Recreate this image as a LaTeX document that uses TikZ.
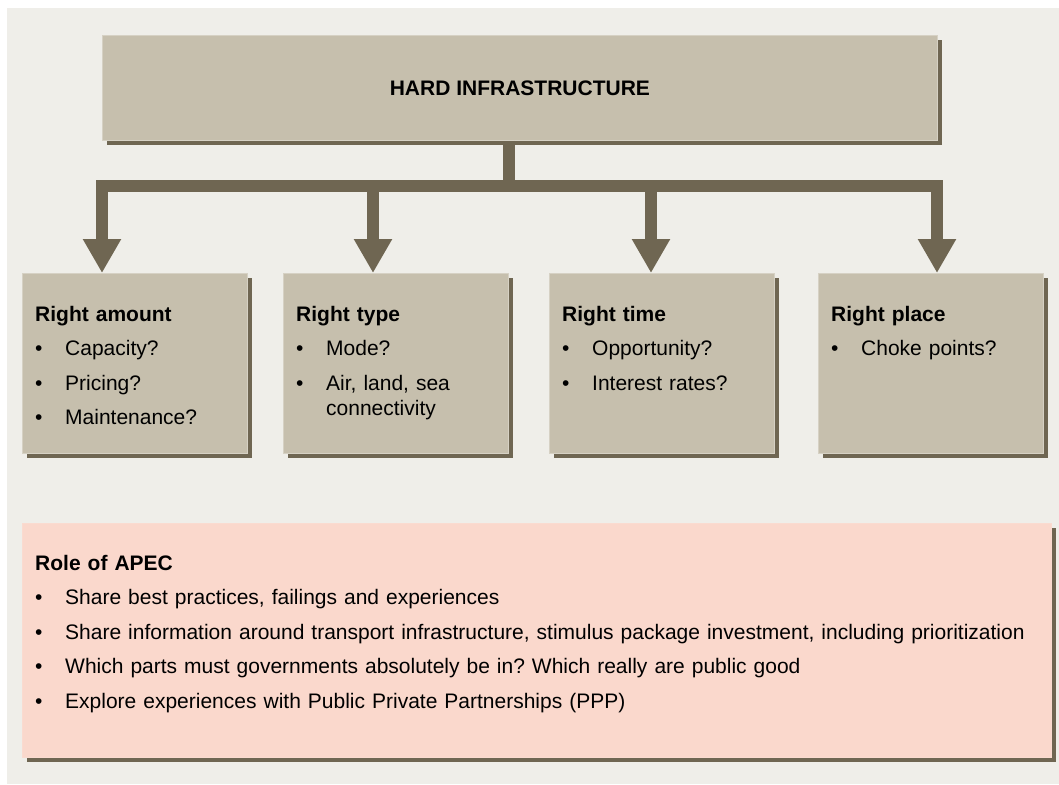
\documentclass[tikz,border=0pt]{standalone}
\usepackage{fontspec}
\setmainfont{Liberation Sans}
\usetikzlibrary{arrows.meta,shadows}
\definecolor{panel}{RGB}{239,238,233}
\definecolor{sand}{RGB}{198,191,173}
\definecolor{sandrim}{RGB}{214,209,196}
\definecolor{umber}{RGB}{111,102,82}
\definecolor{blush}{RGB}{250,216,204}
\newcommand{\pitem}[1]{\par\hangindent=30pt\hangafter=1\makebox[30pt][l]{\textbullet}#1\par}
\tikzset{
  card/.style={rectangle,fill=sand,draw=sandrim,line width=0.8pt,anchor=north west,inner sep=0pt,
    drop shadow={shadow xshift=5pt,shadow yshift=-5pt,opacity=1,fill=umber}},
  listtext/.style={anchor=north west,inner sep=0pt,text width=#1,align=left,
    font=\fontsize{21}{25}\selectfont,
    execute at begin node={\frenchspacing\setlength{\parindent}{0pt}\setlength{\parskip}{9.5pt}}},
  listtext/.default=205pt,
  trunk/.style={draw=umber,line width=12pt},
  feed/.style={trunk,-{Triangle[width=36pt,length=34pt]}}
}

\begin{document}
\begin{tikzpicture}[x=1pt,y=-1pt]
\fill[white] (0,0) rectangle (1059,784);
\fill[panel] (7,8) rectangle (1059,784);

\node[card,minimum width=835pt,minimum height=105pt,font=\bfseries\fontsize{21}{25}\selectfont]
  (hard) at (102,35) {HARD INFRASTRUCTURE};

\node[card,minimum width=225pt,minimum height=180pt] (amount) at (22,273) {};
\node[card,minimum width=225pt,minimum height=180pt] (type) at (283,273) {};
\node[card,minimum width=225pt,minimum height=180pt] (time) at (549,273) {};
\node[card,minimum width=225pt,minimum height=180pt] (place) at (818,273) {};
\node[card,fill=blush,draw=blush!92!white,minimum width=1029pt,minimum height=234pt] (apec) at (22,523) {};

% texts of the four cards
\node[listtext] (amount-txt) at ([shift={(13,33)}]amount.north west)
  {\textbf{Right amount}\pitem{Capacity?}\pitem{Pricing?}\pitem{Maintenance?}};
\node[listtext] (type-txt) at ([shift={(13,33)}]type.north west)
  {\textbf{Right type}\pitem{Mode?}\pitem{Air, land, sea\hfil\break connectivity}};
\node[listtext] (time-txt) at ([shift={(13,33)}]time.north west)
  {\textbf{Right time}\pitem{Opportunity?}\pitem{Interest rates?}};
\node[listtext] (place-txt) at ([shift={(13,33)}]place.north west)
  {\textbf{Right place}\pitem{Choke points?}};

\node[listtext=1010pt] (apec-txt) at ([shift={(13,32)}]apec.north west)
  {\textbf{Role of APEC}
   \pitem{Share best practices, failings and experiences}
   \pitem{Share information around transport infrastructure, stimulus package investment, including prioritization}
   \pitem{Which parts must governments absolutely be in? Which really are public good}
   \pitem{Explore experiences with Public Private Partnerships (PPP)}};

% the fork down to the cards
\coordinate (fork) at (509,186);
\draw[trunk] (hard.south -| fork) -- (fork);
\foreach \n/\dx in {amount/80,type/90,time/102,place/119}
  \draw[feed] (fork) -| ([xshift=\dx pt]\n.north west);
\end{tikzpicture}
\end{document}
